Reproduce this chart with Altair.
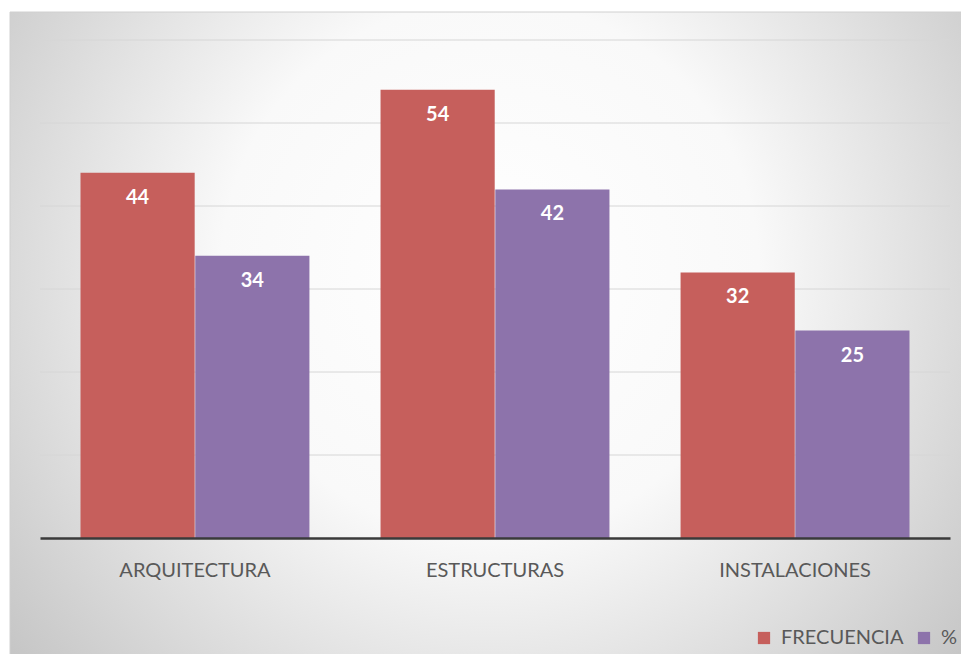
import altair as alt
import pandas as pd

categorias = ["ARQUITECTURA", "ESTRUCTURAS", "INSTALACIONES"]
frecuencia = [44, 54, 32]
porcentaje = [34, 42, 25]
series = ["FRECUENCIA", "%"]
colores = ["#C65F5C", "#8D73AB"]
lineas_guia = [10, 20, 30, 40, 50, 60]

rows = []
for c, f, p in zip(categorias, frecuencia, porcentaje):
    rows.append({"categoria": c, "serie": series[0], "valor": f})
    rows.append({"categoria": c, "serie": series[1], "valor": p})
df = pd.DataFrame(rows)
df_grid = pd.DataFrame({"valor": lineas_guia})

FONT = "Lato"

bg = alt.Chart(alt.Data(values=[{"a": 1}])).mark_rect(
    fill=alt.Gradient(
        gradient="radial",
        stops=[
            alt.GradientStop(color="#ffffff", offset=0),
            alt.GradientStop(color="#f9f9f9", offset=0.4),
            alt.GradientStop(color="#bdbdbd", offset=1),
        ],
        x1=0.5, y1=0.42, x2=0.5, y2=0.42, r1=0, r2=0.7,
    ),
    stroke="#d0d0d0", strokeWidth=1,
).encode(
    x=alt.value(-30), x2=alt.value(930), y=alt.value(-28), y2=alt.value(640)
)

yscale = alt.Scale(domain=[0, 60], nice=False)

grid = alt.Chart(df_grid).mark_rule(color="#d6d6d6", strokeWidth=1).encode(
    y=alt.Y("valor:Q", scale=yscale, axis=None),
    x=alt.value(0), x2=alt.value(910),
)

xenc = alt.X("categoria:N", sort=categorias, title=None,
             scale=alt.Scale(paddingInner=0.237, paddingOuter=0.135),
             axis=alt.Axis(labelAngle=0, labelFontSize=20, labelColor="#595959",
                           labelFont=FONT, ticks=False, domainColor="#3a3a3a",
                           domainWidth=2.5, labelPadding=22, grid=False, zindex=1))
yenc = alt.Y("valor:Q", title=None, scale=yscale, axis=None)
off = alt.XOffset("serie:N", sort=series, scale=alt.Scale(domain=series, paddingInner=0.005))

bars = alt.Chart(df).mark_bar().encode(
    x=xenc, y=yenc, xOffset=off,
    color=alt.Color("serie:N", sort=series,
                    scale=alt.Scale(domain=series, range=colores),
                    legend=alt.Legend(title=None, orient="none", legendX=714, legendY=588,
                                      direction="horizontal", symbolType="square",
                                      symbolSize=150, symbolStrokeWidth=0,
                                      labelFontSize=20, labelColor="#595959",
                                      labelFont=FONT, labelOffset=7, columnPadding=10,
                                      zindex=1)),
)

labels = alt.Chart(df).mark_text(
    color="#ffffff", fontSize=20, fontWeight="bold", font=FONT,
    baseline="middle", align="center", dy=25,
).encode(x=xenc, y=yenc, xOffset=off, text="valor:Q")

chart = alt.layer(bg, grid, bars, labels).properties(
    width=910, height=498,
    padding={"left": 40, "top": 40, "right": 11, "bottom": 116},
    autosize=alt.AutoSizeParams(type="none"),
).configure_view(stroke=None).configure(background="#ffffff")

chart.save("out.html", embed_options={"renderer": "svg", "actions": False})
